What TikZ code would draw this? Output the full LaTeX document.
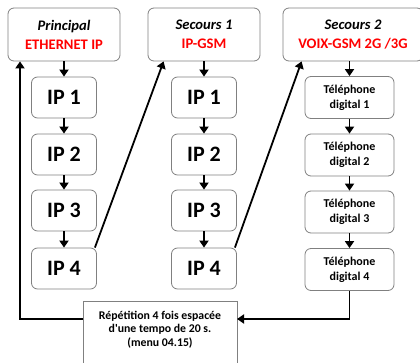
\documentclass[tikz,border=0pt]{standalone}
\usepackage{fontspec}
\setmainfont{Carlito}[Ligatures=TeXOff]
\usetikzlibrary{arrows.meta}
\definecolor{boxgray}{RGB}{128,128,128}
\begin{document}
\begin{tikzpicture}[x=1pt,y=-1pt,
  box/.style={draw=boxgray, line width=0.8pt, rounded corners=6pt, fill=white, align=center, inner sep=0pt},
  head/.style={box, minimum height=53pt, font=\bfseries\fontsize{14.6}{19}\selectfont},
  ipbox/.style={box, minimum width=65pt, minimum height=41pt, font=\bfseries\fontsize{22}{24}\selectfont},
  telbox/.style={box, minimum width=89pt, minimum height=42pt, font=\bfseries\fontsize{12}{15}\selectfont},
  arr/.style={line width=1.8pt, -{Triangle[length=7pt,width=9pt]}}]
\useasboundingbox (0,0) rectangle (420,363);
% headers
\node[head, minimum width=112pt] (p) at (64,34.5) {\textit{Principal}\\ \textcolor{red}{ETHERNET IP}};
\node[head, minimum width=112pt] (s1) at (204,34.5) {\textit{Secours 1}\\ \textcolor{red}{IP-GSM}};
\node[head, minimum width=140pt] (s2) at (353,34.5) {\textit{Secours 2}\\ \textcolor{red}{VOIX-GSM 2G /3G}};
% principal column
\node[ipbox] (a1) at (64,97.5) {IP 1};
\node[ipbox] (a2) at (64,154.5) {IP 2};
\node[ipbox] (a3) at (64,210.5) {IP 3};
\node[ipbox] (a4) at (64,268.5) {IP 4};
% secours 1 column
\node[ipbox] (b1) at (204,97.5) {IP 1};
\node[ipbox] (b2) at (204,154.5) {IP 2};
\node[ipbox] (b3) at (204,210.5) {IP 3};
\node[ipbox] (b4) at (204,268.5) {IP 4};
% secours 2 column
\node[telbox] (t1) at (349.5,97.5) {Téléphone\\ digital 1};
\node[telbox] (t2) at (349.5,155) {Téléphone\\ digital 2};
\node[telbox] (t3) at (349.5,212) {Téléphone\\ digital 3};
\node[telbox] (t4) at (349.5,269.5) {Téléphone\\ digital 4};
% repetition box
\node[draw=boxgray, line width=0.8pt, minimum width=154pt, minimum height=80pt, anchor=north, inner sep=0pt] (rep) at (160,301) {};
\node[align=center, font=\bfseries\fontsize{11.8}{13.7}\selectfont] (rept) at (160,329.5) {Répétition 4 fois espacée\\ d'une tempo de 20 s.\\ (menu 04.15)};
% vertical arrows
\draw[arr] (p) -- (a1);
\draw[arr] (a1) -- (a2);
\draw[arr] (a2) -- (a3);
\draw[arr] (a3) -- (a4);
\draw[arr] (s1) -- (b1);
\draw[arr] (b1) -- (b2);
\draw[arr] (b2) -- (b3);
\draw[arr] (b3) -- (b4);
\draw[arr] (s2.south -| t1.north) -- (t1);
\draw[arr] (t1) -- (t2);
\draw[arr] (t2) -- (t3);
\draw[arr] (t3) -- (t4);
% diagonals
\draw[arr] ([xshift=-2pt]a4.north east) -- ([xshift=16pt]s1.south west);
\draw[arr] ([xshift=-2pt]b4.north east) -- ([xshift=19pt]s2.south west);
% loops
\coordinate (rl) at (83,319);
\coordinate (rr) at (237,319);
\coordinate (lc) at (20,319);
\draw[arr] (rl) -- (lc) -- (lc |- p.south);
\draw[arr] (t4.south) -- (t4.south |- rr) -- (rr);
\end{tikzpicture}
\end{document}
